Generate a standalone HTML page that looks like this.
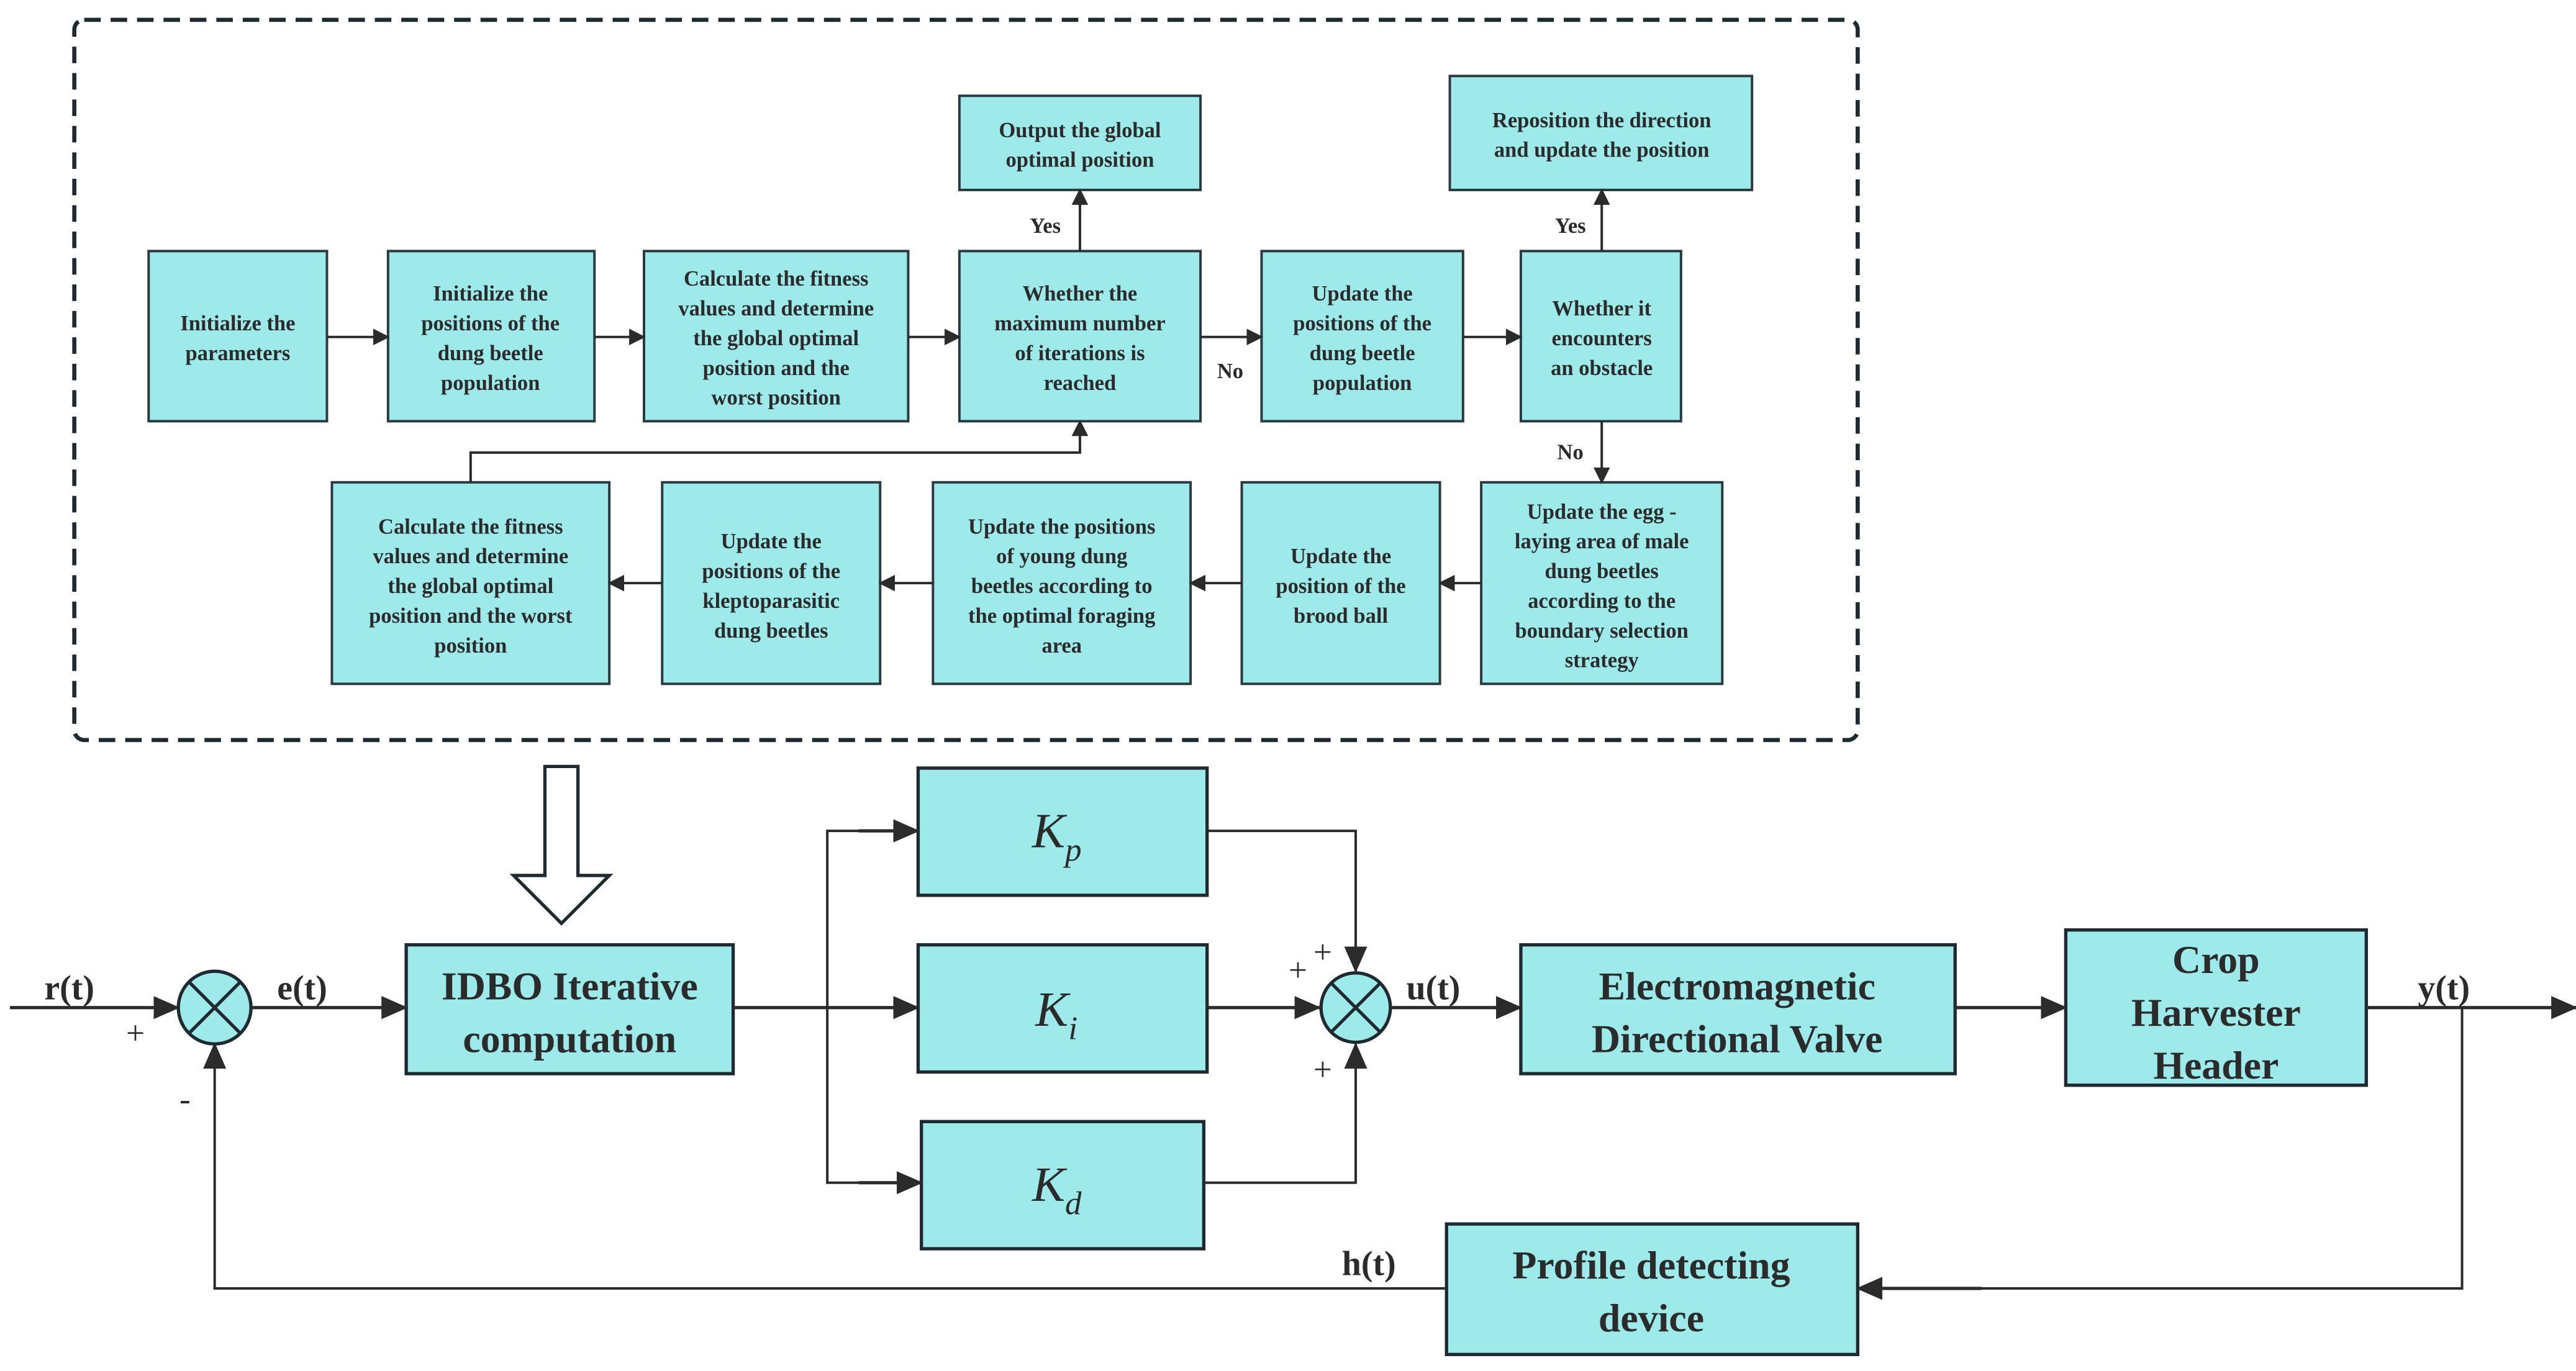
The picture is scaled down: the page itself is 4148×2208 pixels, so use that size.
<!DOCTYPE html>
<html><head><meta charset="utf-8"><style>html,body{margin:0;padding:0;background:#fff}svg{display:block}</style></head>
<body>
<svg width="4148" height="2208" viewBox="0 0 1560 830" preserveAspectRatio="none" xmlns="http://www.w3.org/2000/svg">
<defs>
<marker id="a" markerWidth="10" markerHeight="10" refX="9" refY="5" orient="auto" markerUnits="userSpaceOnUse"><path d="M0,0 L10,5 L0,10 z" fill="#2b2b2b"/></marker>
<marker id="b" markerWidth="16" markerHeight="14" refX="15" refY="7" orient="auto" markerUnits="userSpaceOnUse"><path d="M0,0 L16,7 L0,14 z" fill="#2b2b2b"/></marker>
</defs>
<rect x="45" y="12" width="1080" height="436" rx="6" fill="none" stroke="#1f2a30" stroke-width="2.5" stroke-dasharray="10,6"/>
<g fill="#9eeaea" stroke="#2a3a40" stroke-width="1.5">
<rect x="90" y="152" width="108" height="103"/>
<rect x="235" y="152" width="125" height="103"/>
<rect x="390" y="152" width="160" height="103"/>
<rect x="581" y="152" width="146" height="103"/>
<rect x="764" y="152" width="122" height="103"/>
<rect x="921" y="152" width="97" height="103"/>
<rect x="581" y="58" width="146" height="57"/>
<rect x="878" y="46" width="183" height="69"/>
<rect x="201" y="292" width="168" height="122"/>
<rect x="401" y="292" width="132" height="122"/>
<rect x="565" y="292" width="156" height="122"/>
<rect x="752" y="292" width="120" height="122"/>
<rect x="897" y="292" width="146" height="122"/>
</g>
<g stroke="#2b2b2b" stroke-width="1.5" fill="none">
<line x1="198" y1="204" x2="235" y2="204" marker-end="url(#a)"/>
<line x1="360" y1="204" x2="390" y2="204" marker-end="url(#a)"/>
<line x1="550" y1="204" x2="581" y2="204" marker-end="url(#a)"/>
<line x1="727" y1="204" x2="764" y2="204" marker-end="url(#a)"/>
<line x1="886" y1="204" x2="921" y2="204" marker-end="url(#a)"/>
<line x1="654" y1="152" x2="654" y2="115" marker-end="url(#a)"/>
<line x1="970" y1="152" x2="970" y2="115" marker-end="url(#a)"/>
<line x1="970" y1="255" x2="970" y2="292" marker-end="url(#a)"/>
<polyline points="285,292 285,274 654,274 654,255" marker-end="url(#a)"/>
<line x1="897" y1="353" x2="872" y2="353" marker-end="url(#a)"/>
<line x1="752" y1="353" x2="721" y2="353" marker-end="url(#a)"/>
<line x1="565" y1="353" x2="533" y2="353" marker-end="url(#a)"/>
<line x1="401" y1="353" x2="369" y2="353" marker-end="url(#a)"/>
</g>
<g font-family="Liberation Serif, serif" font-weight="bold" font-size="13" fill="#2b2b2b" text-anchor="middle">
<text x="144" y="200">Initialize the<tspan x="144" dy="18">parameters</tspan></text>
<text x="297" y="182">Initialize the<tspan x="297" dy="18">positions of the</tspan><tspan x="297" dy="18">dung beetle</tspan><tspan x="297" dy="18">population</tspan></text>
<text x="470" y="173">Calculate the fitness<tspan x="470" dy="18">values and determine</tspan><tspan x="470" dy="18">the global optimal</tspan><tspan x="470" dy="18">position and the</tspan><tspan x="470" dy="18">worst position</tspan></text>
<text x="654" y="182">Whether the<tspan x="654" dy="18">maximum number</tspan><tspan x="654" dy="18">of iterations is</tspan><tspan x="654" dy="18">reached</tspan></text>
<text x="825" y="182">Update the<tspan x="825" dy="18">positions of the</tspan><tspan x="825" dy="18">dung beetle</tspan><tspan x="825" dy="18">population</tspan></text>
<text x="970" y="191">Whether it<tspan x="970" dy="18">encounters</tspan><tspan x="970" dy="18">an obstacle</tspan></text>
<text x="654" y="83">Output the global<tspan x="654" dy="18">optimal position</tspan></text>
<text x="970" y="77">Reposition the direction<tspan x="970" dy="18">and update the position</tspan></text>
<text x="285" y="323">Calculate the fitness<tspan x="285" dy="18">values and determine</tspan><tspan x="285" dy="18">the global optimal</tspan><tspan x="285" dy="18">position and the worst</tspan><tspan x="285" dy="18">position</tspan></text>
<text x="467" y="332">Update the<tspan x="467" dy="18">positions of the</tspan><tspan x="467" dy="18">kleptoparasitic</tspan><tspan x="467" dy="18">dung beetles</tspan></text>
<text x="643" y="323">Update the positions<tspan x="643" dy="18">of young dung</tspan><tspan x="643" dy="18">beetles according to</tspan><tspan x="643" dy="18">the optimal foraging</tspan><tspan x="643" dy="18">area</tspan></text>
<text x="812" y="341">Update the<tspan x="812" dy="18">position of the</tspan><tspan x="812" dy="18">brood ball</tspan></text>
<text x="970" y="314">Update the egg -<tspan x="970" dy="18">laying area of male</tspan><tspan x="970" dy="18">dung beetles</tspan><tspan x="970" dy="18">according to the</tspan><tspan x="970" dy="18">boundary selection</tspan><tspan x="970" dy="18">strategy</tspan></text>
<text x="633" y="141">Yes</text>
<text x="951" y="141">Yes</text>
<text x="745" y="229">No</text>
<text x="951" y="278">No</text>
</g>
<!-- lower -->
<path d="M330,464 L350,464 L350,530 L369,530 L340,559 L311,530 L330,530 Z" fill="#fff" stroke="#1f2a30" stroke-width="2"/>
<g fill="#9eeaea" stroke="#1f2a30" stroke-width="2">
<rect x="246" y="572" width="198" height="78"/>
<rect x="556" y="465" width="175" height="77"/>
<rect x="556" y="572" width="175" height="77"/>
<rect x="558" y="679" width="171" height="77"/>
<rect x="921" y="572" width="263" height="78"/>
<rect x="1251" y="563" width="182" height="94"/>
<rect x="876" y="741" width="249" height="79"/>
</g>
<g stroke="#2b2b2b" stroke-width="2" fill="none">
<line x1="6" y1="610" x2="108" y2="610" marker-end="url(#b)"/>
<line x1="152" y1="610" x2="246" y2="610" marker-end="url(#b)"/>
<line x1="444" y1="610" x2="556" y2="610" marker-end="url(#b)"/>
<polyline points="556,503 501,503 501,716 558,716" stroke-width="1.5"/>
<line x1="520" y1="503" x2="556" y2="503" marker-end="url(#b)"/>
<line x1="520" y1="716" x2="558" y2="716" marker-end="url(#b)"/>
<polyline points="731,503 821,503 821,588" stroke-width="1.5" marker-end="url(#b)"/>
<line x1="731" y1="610" x2="799" y2="610" marker-end="url(#b)"/>
<polyline points="729,716 821,716 821,632" stroke-width="1.5" marker-end="url(#b)"/>
<line x1="843" y1="610" x2="921" y2="610" marker-end="url(#b)"/>
<line x1="1184" y1="610" x2="1251" y2="610" marker-end="url(#b)"/>
<line x1="1433" y1="610" x2="1560" y2="610" marker-end="url(#b)"/>
<polyline points="1491,610 1491,780 1125,780" stroke-width="1.5"/>
<line x1="1200" y1="780" x2="1125" y2="780" marker-end="url(#b)"/>
<polyline points="876,780 130,780 130,632" stroke-width="1.5" marker-end="url(#b)"/>
</g>
<g fill="#9eeaea" stroke="#1f2a30" stroke-width="2">
<circle cx="130" cy="610" r="22"/>
<circle cx="821" cy="610" r="21"/>
</g>
<g stroke="#1f2a30" stroke-width="2">
<line x1="114" y1="594" x2="146" y2="626"/><line x1="146" y1="594" x2="114" y2="626"/>
<line x1="806" y1="595" x2="836" y2="625"/><line x1="836" y1="595" x2="806" y2="625"/>
</g>
<g font-family="Liberation Serif, serif" font-weight="bold" fill="#2b2b2b" text-anchor="middle">
<g font-size="24">
<text x="345" y="605">IDBO Iterative<tspan x="345" dy="32">computation</tspan></text>
<text x="1052" y="605">Electromagnetic<tspan x="1052" dy="32">Directional Valve</tspan></text>
<text x="1342" y="589">Crop<tspan x="1342" dy="32">Harvester</tspan><tspan x="1342" dy="32">Header</tspan></text>
<text x="1000" y="774">Profile detecting<tspan x="1000" dy="32">device</tspan></text>
</g>
<g font-size="21">
<text x="42" y="605">r(t)</text>
<text x="183" y="605">e(t)</text>
<text x="868" y="605">u(t)</text>
<text x="1480" y="605">y(t)</text>
<text x="829" y="772">h(t)</text>
</g>
<g font-size="20" font-weight="normal">
<text x="82" y="632">+</text>
<text x="112" y="672">-</text>
<text x="801" y="583">+</text>
<text x="786" y="594">+</text>
<text x="801" y="654">+</text>
</g>
</g>
<g font-family="Liberation Serif, serif" font-style="italic" fill="#2b2b2b" font-size="30">
<text x="625" y="513">K<tspan font-size="20" dy="8">p</tspan></text>
<text x="627" y="621">K<tspan font-size="20" dy="8">i</tspan></text>
<text x="625" y="727">K<tspan font-size="20" dy="8">d</tspan></text>
</g>
</svg>
</body></html>
